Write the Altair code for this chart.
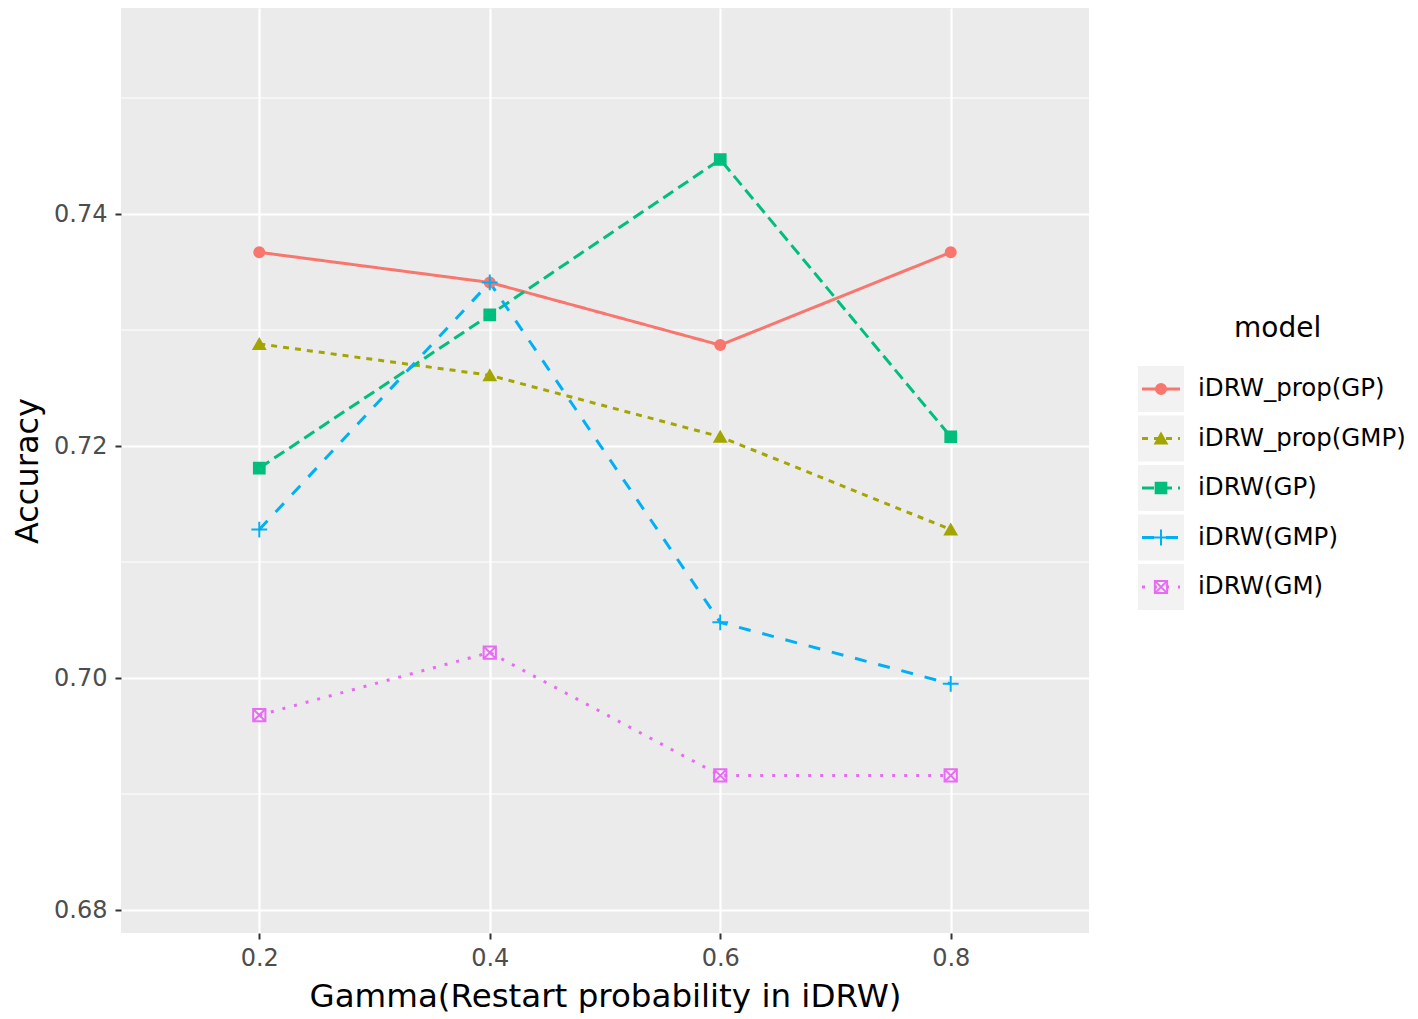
import altair as alt
import pandas as pd

# ---- data ----
gamma = [0.2, 0.4, 0.6, 0.8]
models = ["iDRW_prop(GP)", "iDRW_prop(GMP)", "iDRW(GP)", "iDRW(GMP)", "iDRW(GM)"]
acc_prop_gp = [0.7367, 0.7341, 0.7287, 0.7367]
acc_prop_gmp = [0.7288, 0.7261, 0.7208, 0.7128]
acc_gp = [0.7181, 0.7313, 0.7447, 0.7208]
acc_gmp = [0.7128, 0.7341, 0.7048, 0.6995]
acc_gm = [0.6968, 0.7022, 0.6916, 0.6916]
y_ticks = [0.68, 0.70, 0.72, 0.74]
y_minor = [0.69, 0.71, 0.73, 0.75]
x_ticks = [0.2, 0.4, 0.6, 0.8]

# ---- styles ----
colors = ["#F8766D", "#A3A500", "#00BF7D", "#00B0F6", "#E76BF3"]
dashes = [[1, 0], [6, 6], [12, 6], [12, 12], [3, 9]]
shapes = ["circle", "triangle-up", "square",
          "M-1,0H1M0,-1V1",
          "M-1,-1H1V1H-1ZM-1,-1L1,1M-1,1L1,-1"]
fills = colors[:3] + ["transparent", "transparent"]
sizes = [100, 130, 115, 250, 150]

series = [acc_prop_gp, acc_prop_gmp, acc_gp, acc_gmp, acc_gm]
rows = []
for m, vals in zip(models, series):
    for g, v in zip(gamma, vals):
        rows.append({"model": m, "gamma": g, "acc": v})
df = pd.DataFrame(rows)

color_enc = alt.Color("model:N", scale=alt.Scale(domain=models, range=colors), legend=None)
dash_enc = alt.StrokeDash("model:N", scale=alt.Scale(domain=models, range=dashes), legend=None)
shape_enc = alt.Shape("model:N", scale=alt.Scale(domain=models, range=shapes), legend=None)
fill_enc = alt.Fill("model:N", scale=alt.Scale(domain=models, range=fills), legend=None)
size_enc = alt.Size("model:N", scale=alt.Scale(type="ordinal", domain=models, range=sizes),
                    legend=None)

FONT = "DejaVu Sans"

x_enc = alt.X("gamma:Q",
              scale=alt.Scale(domain=[0.08, 0.92], nice=False, zero=False),
              axis=alt.Axis(values=x_ticks, format=".1f",
                            title="Gamma(Restart probability in iDRW)",
                            labelFontSize=24, labelColor="#4D4D4D", labelPadding=7,
                            titleFontSize=32.5, titleFontWeight="normal", titleColor="black",
                            titlePadding=10, tickColor="#333333", tickSize=6, tickWidth=2,
                            domain=False, grid=True, gridColor="white", gridWidth=2.2,
                            labelFont=FONT, titleFont=FONT))
y_scale = alt.Scale(domain=[0.67802, 0.75776], nice=False, zero=False)
y_enc = alt.Y("acc:Q", scale=y_scale,
              axis=alt.Axis(values=y_ticks, format=".2f", title="Accuracy",
                            labelFontSize=24, labelColor="#4D4D4D", labelPadding=8,
                            titleFontSize=32, titleFontWeight="normal", titleColor="black",
                            titlePadding=9, tickColor="#333333", tickSize=6, tickWidth=2,
                            domain=False, grid=True, gridColor="white", gridWidth=2.2,
                            labelFont=FONT, titleFont=FONT))

minor = alt.Chart(pd.DataFrame({"v": y_minor})).mark_rule(
    color="white", strokeWidth=1.1).encode(y=alt.Y("v:Q", scale=y_scale))

lines = alt.Chart(df).mark_line(strokeWidth=3).encode(
    x=x_enc, y=y_enc, color=color_enc, strokeDash=dash_enc, detail="model:N")

points = alt.Chart(df).mark_point(strokeWidth=2, opacity=1).encode(
    x="gamma:Q", y="acc:Q", stroke=color_enc, fill=fill_enc, shape=shape_enc, size=size_enc)

main = alt.layer(minor, lines, points).properties(
    width=968, height=925,
    view=alt.ViewBackground(fill="#EBEBEB", stroke=None))

# ---- legend panel built from the model categories ----
leg_df = pd.DataFrame({"model": models})
leg_y = alt.Y("model:N", axis=None,
              scale=alt.Scale(type="point", domain=models, range=[381, 579], padding=0))

keys = alt.Chart(leg_df).mark_square(size=2116, color="#F2F2F2", opacity=1).encode(
    x=alt.value(22), y=leg_y)
key_lines = alt.Chart(leg_df).mark_rule(strokeWidth=3).encode(
    x=alt.value(3), x2=alt.value(41), y=leg_y, color=color_enc, strokeDash=dash_enc)
key_pts = alt.Chart(leg_df).mark_point(strokeWidth=2, opacity=1).encode(
    x=alt.value(22), y=leg_y, stroke=color_enc, fill=fill_enc, shape=shape_enc, size=size_enc)
labels = alt.Chart(leg_df).mark_text(align="left", baseline="middle", fontSize=24.5,
                                     font=FONT, color="black").encode(
    x=alt.value(59), y=leg_y, text="model:N")
leg_title = alt.Chart(pd.DataFrame({"t": ["model"]})).mark_text(
    align="left", baseline="middle", fontSize=28, font=FONT, color="black").encode(
    x=alt.value(95), y=alt.value(321), text="t:N")

legend = alt.layer(keys, key_lines, key_pts, labels, leg_title).properties(
    width=262, height=925, view=alt.ViewBackground(fill="white", stroke=None))

chart = alt.hconcat(main, legend, spacing=48).configure_view(stroke=None).configure(
    font=FONT, padding={"left": 3, "top": 0, "right": 0, "bottom": 0}, background="white")

chart.save("out.html", embed_options={"renderer": "svg", "actions": False})
